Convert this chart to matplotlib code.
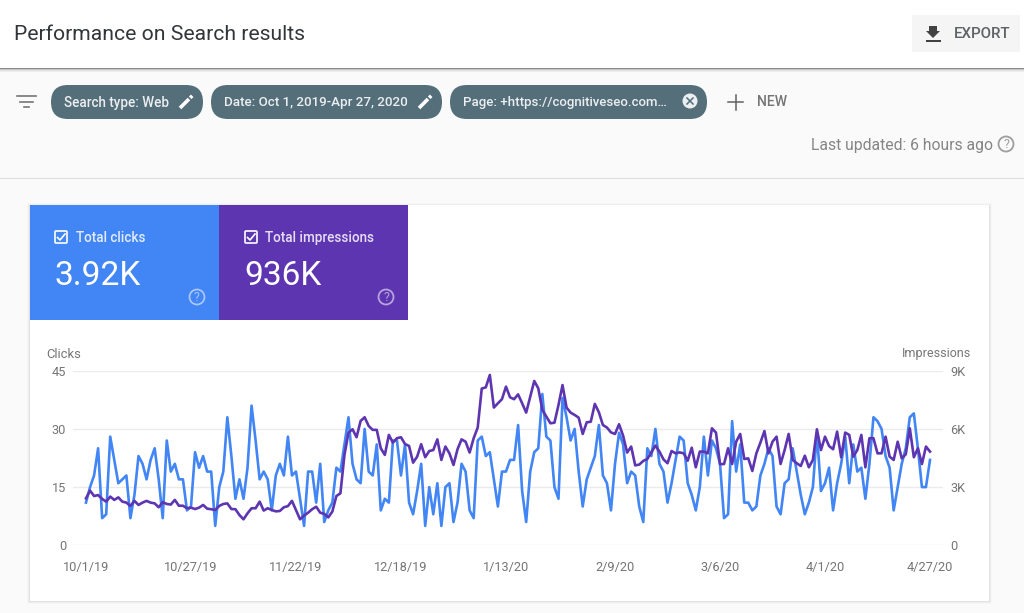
"""
Search Console performance panel, UI chrome drawn in pixel coords, chart on real axes.
"""
import matplotlib
matplotlib.use("Agg")
from matplotlib import pyplot as plt
from matplotlib.patches import Rectangle, FancyBboxPatch, Circle, Polygon
import matplotlib.dates as mdates
import pandas as pd

plt.rcParams['font.family'] = ['Roboto', 'DejaVu Sans']

# data
start_date = '2019-10-01'
end_date = '2020-04-27'
tick_dates = ['2019-10-01', '2019-10-27', '2019-11-22', '2019-12-18', '2020-01-13',
              '2020-02-09', '2020-03-06', '2020-04-01', '2020-04-27']
tick_labels = ['10/1/19', '10/27/19', '11/22/19', '12/18/19', '1/13/20',
               '2/9/20', '3/6/20', '4/1/20', '4/27/20']
clicks_ticks = [0, 15, 30, 45]
clicks_tick_labels = ['0', '15', '30', '45']
impressions_ticks = [0, 3000, 6000, 9000]
impressions_tick_labels = ['0', '3K', '6K', '9K']

clicks = [
  11, 15, 18, 25, 7, 8, 28, 22, 16, 17, 18, 7, 13, 23, 21, 17, 22, 25, 17, 7,
  27, 19, 21, 17, 17, 9, 10, 24, 20, 23, 19, 19, 5, 15, 19, 33, 23, 12, 17, 12,
  20, 36, 27, 17, 19, 17, 9, 18, 21, 18, 28, 18, 19, 12, 5, 19, 19, 11, 21, 6,
  9, 11, 20, 19, 26, 33, 21, 17, 16, 30, 19, 18, 26, 9, 12, 11, 27, 27, 18, 26,
  11, 8, 14, 21, 5, 15, 8, 16, 5, 15, 16, 6, 11, 21, 19, 9, 7, 27, 28, 23,
  24, 17, 10, 19, 19, 22, 22, 31, 14, 6, 19, 24, 25, 39, 28, 27, 15, 12, 38, 33,
  27, 30, 19, 10, 17, 20, 23, 31, 18, 16, 9, 21, 29, 26, 16, 19, 18, 10, 6, 25,
  23, 30, 21, 19, 11, 16, 22, 28, 27, 16, 13, 9, 15, 28, 18, 27, 25, 21, 7, 8,
  32, 19, 26, 11, 11, 9, 10, 18, 21, 25, 23, 10, 8, 16, 17, 25, 19, 13, 8, 11,
  15, 29, 14, 16, 20, 9, 16, 21, 28, 16, 26, 19, 20, 12, 21, 33, 32, 30, 23, 20,
  9, 15, 21, 25, 33, 34, 25, 15, 15, 22,
]
impressions = [
  2420, 2820, 2540, 2590, 2390, 2250, 2510, 2340, 2470, 2250, 2200, 2030, 2290, 2080, 2200,
  2290, 2200, 2160, 1960, 2220, 2130, 2100, 2340, 2040, 2040, 1910, 1940, 1870, 1940, 2080,
  1890, 1860, 1820, 2030, 2130, 2160, 1870, 1860, 1560, 1340, 1650, 1910, 1910, 2250, 1790,
  1910, 1820, 1750, 1770, 1960, 2020, 2290, 1820, 1340, 1530, 1680, 1860, 1990, 1680, 1620,
  1440, 1740, 2540, 2680, 4660, 5810, 5980, 5570, 6410, 6600, 6150, 5950, 5950, 5000, 4660,
  5690, 5290, 5520, 5570, 5220, 5120, 4260, 4570, 5210, 4540, 4860, 4910, 5460, 4400, 5090,
  4740, 4140, 4950, 5460, 5340, 4780, 5520, 6070, 8080, 8140, 8780, 7100, 7320, 7530, 8180,
  7630, 7530, 7780, 7320, 6840, 7660, 8470, 8090, 6980, 6630, 6290, 6320, 7230, 8260, 7100,
  6840, 6720, 6580, 5740, 6340, 6370, 7290, 6860, 6200, 6070, 5820, 5740, 6240, 5650, 4780,
  5090, 4120, 4160, 4350, 4450, 4790, 5140, 4830, 4430, 4230, 4860, 4740, 4790, 4740, 4360,
  5030, 4020, 4830, 4830, 4740, 6030, 5810, 4180, 4190, 5000, 4190, 5340, 5740, 4450, 4480,
  3830, 4740, 5290, 5890, 4740, 5340, 5600, 4190, 4910, 5740, 4400, 4230, 4090, 4620, 4020,
  4400, 5980, 4910, 5600, 5120, 4950, 5860, 4540, 5810, 5690, 4570, 4910, 5690, 4020, 5520,
  5520, 4740, 4740, 5600, 4570, 4400, 5340, 4480, 4690, 6030, 4540, 5000, 4190, 5090, 4830,
]

BLUE = '#4285f4'
PURPLE = '#5e35b1'
CHIP = '#546e7a'
GREY = '#757575'

fig = plt.figure(figsize=(10.24, 6.13), dpi=100, facecolor='#fafafa')

# full-figure axes in pixel coords for the page chrome
ui = fig.add_axes([0, 0, 1, 1])
ui.set_xlim(0, 1024)
ui.set_ylim(613, 0)
ui.axis('off')


def label(x, y, s, px, color=GREY, ha='left', **kw):
  return ui.text(x, y, s, fontsize=px * 0.72, color=color, ha=ha, va='center', **kw)


def box(x0, y0, x1, y1, color, **kw):
  ui.add_patch(Rectangle((x0, y0), x1 - x0, y1 - y0, facecolor=color, edgecolor='none', **kw))


def chip(x0, x1, text, text_x, px):
  ui.add_patch(FancyBboxPatch((x0, 85), x1 - x0, 34, boxstyle='round,pad=0,rounding_size=17',
                              facecolor=CHIP, edgecolor='none'))
  label(text_x, 102.5, text, px, color='#eceff1', fontweight='medium')


def pencil(x, y):
  ui.plot([x - 6, x + 3], [y + 6, y - 3], color='white', lw=2.6, solid_capstyle='butt')
  ui.plot([x + 4.2, x + 6.2], [y - 4.2, y - 6.2], color='white', lw=2.6, solid_capstyle='butt')


def help_icon(x, y, color, r=7.5):
  ui.add_patch(Circle((x, y), r, facecolor='none', edgecolor=color, lw=1.3))
  ui.text(x, y + 0.3, '?', fontsize=9, color=color, ha='center', va='center')


def checkbox(x, y):
  ui.add_patch(FancyBboxPatch((x + 1, y + 1), 12, 12, boxstyle='round,pad=0,rounding_size=1',
                              facecolor='none', edgecolor='white', lw=1.2))
  ui.plot([x + 3.5, x + 6, x + 11], [y + 7.5, y + 10, y + 4], color='white', lw=1.2)


# header with its shadow
box(0, 0, 1024, 68, 'white')
for i, a in enumerate([0.45, 0.2, 0.1, 0.05]):
  box(0, 68 + i, 1024, 69 + i, 'black', alpha=a)
label(14, 34.5, 'Performance on Search results', 21.2, color='#333638')

box(912, 15, 1020, 52, '#f5f5f5')
ui.add_patch(Polygon([(929, 26), (937, 26), (937, 31), (940, 31), (933, 38), (926, 31), (929, 31)],
                     facecolor='#424242', edgecolor='none'))
box(926, 40, 941, 42, '#424242')
label(954, 34.5, 'EXPORT', 15, color='#5f6368', fontweight='medium')

# filter row
for x0, x1, y in [(17, 36, 96), (20, 33, 102), (24, 29, 107)]:
  ui.plot([x0, x1], [y, y], color='#757575', lw=1.2)
chip(51, 203, 'Search type: Web', 64, 13.5)
pencil(186, 102)
chip(211, 442, 'Date: Oct 1, 2019-Apr 27, 2020', 224, 13.4)
pencil(425, 102)
chip(450, 707, 'Page: +https://cognitiveseo.com…', 463, 13.3)
ui.add_patch(Circle((690, 101), 7.5, facecolor='#eceff1', edgecolor='none'))
ui.plot([687, 693], [98, 104], color=CHIP, lw=1.1)
ui.plot([687, 693], [104, 98], color=CHIP, lw=1.1)
ui.plot([728, 743], [102, 102], color='#616161', lw=1.1)
ui.plot([735.5, 735.5], [95, 110], color='#616161', lw=1.1)
label(757, 102.5, 'NEW', 14, fontweight='medium')
label(811, 145.5, 'Last updated: 6 hours ago', 15.7, color='#858585')
help_icon(1006, 144, '#9e9e9e')
box(0, 177.5, 1024, 179, '#dcdcdc')

# card with a soft shadow
for i, a in enumerate([0.015, 0.03, 0.05]):
  box(29 - (2 - i), 205 - (2 - i), 990 + (2 - i), 602 + (2 - i), 'black', alpha=a)
box(30, 205, 989, 601, 'white')

# metric tiles
box(30, 205, 219, 320, BLUE)
box(219, 205, 408, 320, PURPLE)
checkbox(54, 230)
label(76, 238, 'Total clicks', 13.5, color='#e3ecfd', fontweight='medium')
label(54, 276, '3.92K', 33.5, color='white')
help_icon(197, 297, '#a9c6fa')
checkbox(244, 230)
label(265, 238, 'Total impressions', 13.5, color='#e6dff3', fontweight='medium')
label(244, 276, '936K', 33.5, color='white')
help_icon(386, 297, '#b7a4dd')

label(46, 354, 'Clicks', 13)
label(971, 354, 'Impressions', 12.5, ha='right')

# the chart itself
dates = pd.date_range(start_date, end_date)
t0 = mdates.date2num(dates[0])
px_per_day = (930 - 86) / (len(dates) - 1)

ax = fig.add_axes([73 / 1024, 1 - 545.3 / 613, (943 - 73) / 1024, (545.3 - 370.7) / 613])
ax.patch.set_alpha(0)
ax.plot(dates, clicks, color=BLUE, lw=1.9, solid_joinstyle='round')
ax.set_xlim(t0 - (86 - 73) / px_per_day, t0 + len(dates) - 1 + (943 - 930) / px_per_day)
ax.set_ylim(0, 45)
ax.set_yticks(clicks_ticks)
ax.set_yticklabels(clicks_tick_labels)
ax.set_xticks(pd.to_datetime(tick_dates))
ax.set_xticklabels(tick_labels)
ax.grid(axis='y', color='#ebebeb', lw=1)
ax.set_axisbelow(True)
ax.tick_params(axis='both', length=0, labelsize=9.2, labelcolor=GREY)
ax.tick_params(axis='x', pad=11)
ax.tick_params(axis='y', pad=5)

ax2 = ax.twinx()
ax2.plot(dates, impressions, color=PURPLE, lw=1.9, solid_joinstyle='round')
ax2.set_ylim(0, 9000)
ax2.set_yticks(impressions_ticks)
ax2.set_yticklabels(impressions_tick_labels)
ax2.tick_params(axis='y', length=0, labelsize=9.2, labelcolor=GREY, pad=5)

for a in (ax, ax2):
  for spine in a.spines.values():
    spine.set_visible(False)

fig.savefig('out.png', dpi=100, facecolor=fig.get_facecolor())
